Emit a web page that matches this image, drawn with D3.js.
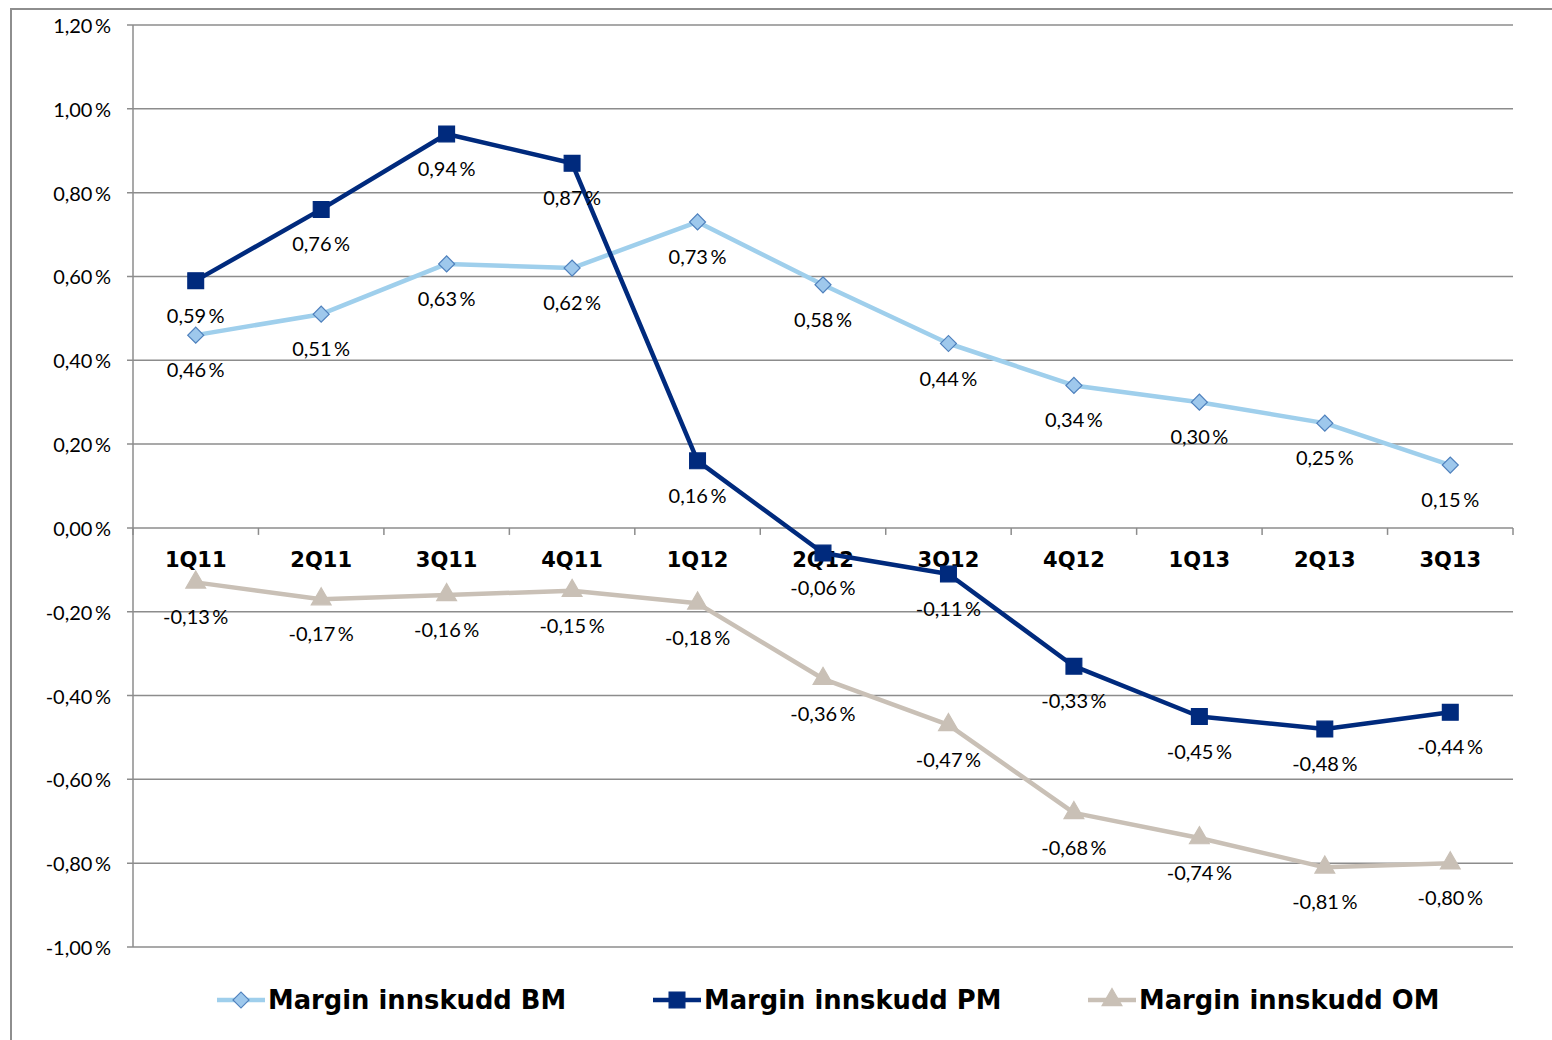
<!DOCTYPE html>
<html>
<head>
<meta charset="utf-8">
<script src="https://cdn.jsdelivr.net/npm/d3@7"></script>
<style>
  body { margin: 0; background: #fff; }
  svg { display: block; }
  .ytick { font-family: Lato, sans-serif; font-size: 20px; fill: #000; }
  .cat { font-family: "DejaVu Sans", sans-serif; font-weight: bold; font-size: 21px; fill: #000; }
  .dlabel { font-family: Lato, sans-serif; font-size: 20px; fill: #000; }
  .legend text { font-family: "DejaVu Sans", sans-serif; font-weight: bold; font-size: 25.8px; fill: #000; }
</style>
</head>
<body>
<svg id="chart" width="1552" height="1040"></svg>
<script>
var quarters = ["1Q11", "2Q11", "3Q11", "4Q11", "1Q12", "2Q12", "3Q12", "4Q12", "1Q13", "2Q13", "3Q13"];
var bmValues = [0.46, 0.51, 0.63, 0.62, 0.73, 0.58, 0.44, 0.34, 0.30, 0.25, 0.15];
var pmValues = [0.59, 0.76, 0.94, 0.87, 0.16, -0.06, -0.11, -0.33, -0.45, -0.48, -0.44];
var omValues = [-0.13, -0.17, -0.16, -0.15, -0.18, -0.36, -0.47, -0.68, -0.74, -0.81, -0.80];
var yTicks = [-1.0, -0.8, -0.6, -0.4, -0.2, 0, 0.2, 0.4, 0.6, 0.8, 1.0, 1.2];

var series = [
    { name: "Margin innskudd BM", values: bmValues, line: "#9fcfec", fill: "#9ec8ec", stroke: "#4f81bd", symbol: d3.symbolSquare, size: 128, rot: 45, lx: 217 },
    { name: "Margin innskudd PM", values: pmValues, line: "#002a7d", fill: "#002a7d", stroke: "#002a7d", symbol: d3.symbolSquare, size: 250, rot: 0, lx: 653 },
    { name: "Margin innskudd OM", values: omValues, line: "#c9c0b6", fill: "#c9c0b6", stroke: "#c9c0b6", symbol: d3.symbolTriangle, size: 170, rot: 0, lx: 1088 }
];

var fmt = function(v) { return d3.format(".2f")(v).replace(".", ",").replace("\u2212", "-") + "\u2009%"; };

var svg = d3.select("#chart");
var plotLeft = 133, plotRight = 1513, plotTop = 25, plotBottom = 947;

var x = d3.scaleBand().domain(quarters).range([plotLeft, plotRight]);
var y = d3.scaleLinear().domain([-1.0, 1.2]).range([plotBottom, plotTop]);

// outer frame
svg.append("path")
    .attr("d", "M11,1040 V9 H1552")
    .attr("fill", "none")
    .attr("stroke", "#8e8e8e")
    .attr("stroke-width", 2);

// gridlines + y ticks
svg.append("g").selectAll("line")
    .data(yTicks)
  .enter()
    .append("line")
    .attr("x1", plotLeft - 6)
    .attr("x2", plotRight)
    .attr("y1", function(d) { return y(d); })
    .attr("y2", function(d) { return y(d); })
    .attr("stroke", "#8c8c8c")
    .attr("stroke-width", 1.5);

svg.append("line")
    .attr("x1", plotLeft).attr("x2", plotLeft)
    .attr("y1", plotTop).attr("y2", plotBottom)
    .attr("stroke", "#8c8c8c")
    .attr("stroke-width", 1.5);

svg.append("g").selectAll("text")
    .data(yTicks)
  .enter()
    .append("text")
    .attr("class", "ytick")
    .attr("x", 111)
    .attr("y", function(d) { return y(d) + 8; })
    .attr("text-anchor", "end")
    .text(fmt);

// category ticks on zero line
var bounds = quarters.map(function(q) { return x(q); }).concat([plotRight]);
svg.append("g").selectAll("line")
    .data(bounds)
  .enter()
    .append("line")
    .attr("x1", function(d) { return d; })
    .attr("x2", function(d) { return d; })
    .attr("y1", y(0))
    .attr("y2", y(0) + 7)
    .attr("stroke", "#8c8c8c")
    .attr("stroke-width", 1.5);

svg.append("g").selectAll("text")
    .data(quarters)
  .enter()
    .append("text")
    .attr("class", "cat")
    .attr("x", function(d) { return x(d) + x.bandwidth() / 2; })
    .attr("y", y(0) + 39)
    .attr("text-anchor", "middle")
    .text(function(d) { return d; });

var cx = function(d, i) { return x(quarters[i]) + x.bandwidth() / 2; };

series.forEach(function(s) {
    var g = svg.append("g");
    var line = d3.line()
        .x(function(d, i) { return cx(d, i); })
        .y(function(d) { return y(d); });

    g.append("path")
        .datum(s.values)
        .attr("d", line)
        .attr("fill", "none")
        .attr("stroke", s.line)
        .attr("stroke-width", 4.5)
        .attr("stroke-linejoin", "round");

    g.selectAll("path.mk")
        .data(s.values)
      .enter()
        .append("path")
        .attr("class", "mk")
        .attr("d", d3.symbol().type(s.symbol).size(s.size))
        .attr("transform", function(d, i) { return "translate(" + cx(d, i) + "," + y(d) + ") rotate(" + s.rot + ")"; })
        .attr("fill", s.fill)
        .attr("stroke", s.stroke)
        .attr("stroke-width", 1.2);
});

// data labels drawn last so they sit on top
series.forEach(function(s) {
    svg.append("g").selectAll("text")
        .data(s.values)
      .enter()
        .append("text")
        .attr("class", "dlabel")
        .attr("x", function(d, i) { return cx(d, i); })
        .attr("y", function(d) { return y(d) + 42; })
        .attr("text-anchor", "middle")
        .text(fmt);
});

// legend
var lg = svg.append("g").attr("class", "legend");
series.forEach(function(s) {
    var ly = 1000;
    lg.append("line")
        .attr("x1", s.lx).attr("x2", s.lx + 48)
        .attr("y1", ly).attr("y2", ly)
        .attr("stroke", s.line)
        .attr("stroke-width", 4.5);
    lg.append("path")
        .attr("d", d3.symbol().type(s.symbol).size(s.size))
        .attr("transform", "translate(" + (s.lx + 24) + "," + ly + ") rotate(" + s.rot + ")")
        .attr("fill", s.fill)
        .attr("stroke", s.stroke)
        .attr("stroke-width", 1.2);
    lg.append("text")
        .attr("x", s.lx + 51)
        .attr("y", ly + 9)
        .text(s.name);
});
</script>
</body>
</html>
